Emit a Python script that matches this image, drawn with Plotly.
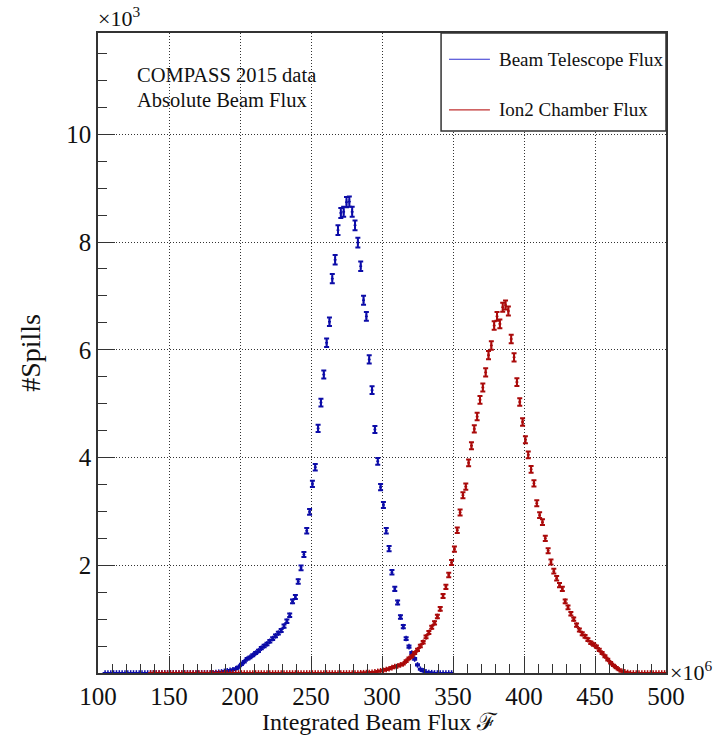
import numpy as np
import plotly.graph_objects as go

BIN_WIDTH = 2.0  # x10^6

# Beam Telescope Flux: bin contents (x10^3 spills); bin centres 105, 107, ..., 349
blue_first_center = 105
blue_values = [0] * 38 + [                                        # 105-179
    0.005, 0.01, 0.015, 0.02, 0.03, 0.04, 0.05, 0.06, 0.08, 0.11,  # 181-199
    0.16, 0.21, 0.26, 0.29, 0.33, 0.37, 0.41, 0.46, 0.50, 0.54,    # 201-219
    0.59, 0.64, 0.69, 0.74, 0.79, 0.87, 0.96, 1.07, 1.33, 1.41,    # 221-239
    1.70, 1.95, 2.20, 2.64, 2.99, 3.51, 3.82, 4.54, 5.02, 5.54,    # 241-259
    6.13, 6.52, 7.32, 7.67, 8.22, 8.54, 8.56, 8.74, 8.75, 8.56,    # 261-279
    8.31, 7.99, 7.55, 6.92, 6.62, 5.82, 5.25, 4.52, 3.93, 3.45,    # 281-299
    3.12, 2.64, 2.31, 1.87, 1.56, 1.31, 1.04, 0.86, 0.64, 0.49,    # 301-319
    0.37, 0.26, 0.15, 0.07, 0.04, 0.02, 0.01, 0.005, 0, 0,         # 321-339
    0, 0, 0, 0, 0,                                                 # 341-349
]

# Ion2 Chamber Flux: bin contents (x10^3 spills); bin centres 137, 139, ..., 499
red_first_center = 137
red_values = [0] * 74 + [                                          # 137-283
    0.003, 0.005, 0.007,                                           # 285-289
    0.01, 0.015, 0.02, 0.03, 0.04, 0.05, 0.065, 0.08, 0.10, 0.12,  # 291-309
    0.13, 0.15, 0.17, 0.22, 0.27, 0.31, 0.37, 0.43, 0.50, 0.57,    # 311-329
    0.67, 0.75, 0.85, 0.93, 1.05, 1.19, 1.43, 1.60, 1.82, 2.05,    # 331-349
    2.30, 2.65, 2.98, 3.30, 3.46, 3.90, 4.22, 4.53, 4.76, 5.07,    # 351-369
    5.30, 5.58, 5.90, 6.08, 6.45, 6.62, 6.48, 6.79, 6.83, 6.72,    # 371-389
    6.20, 5.86, 5.40, 5.03, 4.66, 4.33, 4.05, 3.78, 3.52, 3.15,    # 391-409
    2.93, 2.80, 2.50, 2.27, 2.06, 1.89, 1.76, 1.63, 1.56, 1.33,    # 411-429
    1.22, 1.10, 1.00, 0.89, 0.80, 0.73, 0.68, 0.62, 0.56, 0.53,    # 431-449
    0.49, 0.43, 0.37, 0.31, 0.25, 0.19, 0.14, 0.10, 0.06, 0.03,    # 451-469
    0.02, 0.01,                                                    # 471-473
] + [0] * 13                                                       # 475-499

series_names = ["Beam Telescope Flux", "Ion2 Chamber Flux"]
x_ticks = [100, 150, 200, 250, 300, 350, 400, 450, 500]
y_ticks = [2, 4, 6, 8, 10]

BLUE = "#0c0ca8"
RED = "#aa0a0a"
FONT = "Liberation Serif, Times New Roman, serif"


def centers(first, n):
    return [first + BIN_WIDTH * i for i in range(n)]


def poisson_err(vals):
    return [float(np.sqrt(v * 1000.0) / 1000.0) for v in vals]


fig = go.Figure()
for first, vals, col, name in [
    (blue_first_center, blue_values, BLUE, series_names[0]),
    (red_first_center, red_values, RED, series_names[1]),
]:
    fig.add_trace(go.Scatter(
        x=centers(first, len(vals)), y=vals, mode="markers", name=name,
        showlegend=False,
        marker=dict(symbol="line-ns", size=4, color=col,
                    line=dict(color=col, width=1.5)),
        error_y=dict(type="data", array=poisson_err(vals), width=2.5,
                     thickness=2.0, color=col),
        error_x=dict(type="constant", value=BIN_WIDTH / 2, width=0,
                     thickness=1.5, color=col),
    ))

axis_common = dict(
    showline=True, linecolor="#333", linewidth=1.5, mirror=True,
    ticks="inside", ticklen=17, tickwidth=1.2, tickcolor="#333",
    showgrid=True, gridcolor="#333", gridwidth=1, griddash="1px,2px",
    zeroline=False,
    tickfont=dict(family=FONT, size=25, color="#111"),
)

fig.update_xaxes(range=[100, 500], tickvals=x_ticks,
                 ticktext=[str(t) for t in x_ticks],
                 minor=dict(dtick=10, tick0=100, ticklen=9, ticks="inside",
                            tickcolor="#333", tickwidth=1.2, showgrid=False),
                 **axis_common)
fig.update_yaxes(range=[0, 11.88], tickvals=y_ticks,
                 ticktext=[str(t) for t in y_ticks],
                 minor=dict(dtick=0.5, tick0=0, ticklen=9, ticks="inside",
                            tickcolor="#333", tickwidth=1.2, showgrid=False),
                 **axis_common)

# Legend box (drawn to match the ROOT TLegend)
shapes = [
    dict(type="rect", xref="paper", yref="paper", x0=0.604, x1=1.0,
         y0=0.847, y1=1.0, line=dict(color="#333", width=1.5),
         fillcolor="white", layer="above"),
    dict(type="line", xref="paper", yref="paper", x0=0.618, x1=0.690,
         y0=0.959, y1=0.959, line=dict(color="#3030d0", width=1.2)),
    dict(type="line", xref="paper", yref="paper", x0=0.618, x1=0.690,
         y0=0.880, y1=0.880, line=dict(color="#c03030", width=1.2)),
]

ann = [
    dict(text=series_names[0], x=0.702, y=0.959, xanchor="left", yanchor="middle",
         font=dict(family=FONT, size=19, color="#111")),
    dict(text=series_names[1], x=0.702, y=0.880, xanchor="left", yanchor="middle",
         font=dict(family=FONT, size=19, color="#111")),
    dict(text="COMPASS 2015 data", x=0.065, y=0.934, xanchor="left", yanchor="middle",
         font=dict(family=FONT, size=20.5, color="#111")),
    dict(text="Absolute Beam Flux", x=0.065, y=0.895, xanchor="left", yanchor="middle",
         font=dict(family=FONT, size=20.5, color="#111")),
    dict(text="×10<sup>3</sup>", x=-0.003, y=1.0, xanchor="left", yanchor="bottom",
         font=dict(family=FONT, size=22, color="#111")),
    dict(text="×10<sup>6</sup>", x=1.003, y=0.003, xanchor="left", yanchor="middle",
         font=dict(family=FONT, size=22, color="#111")),
    dict(text="#Spills", x=-0.12, y=0.5, xanchor="center", yanchor="middle",
         textangle=-90, font=dict(family=FONT, size=28, color="#111")),
    dict(text="Integrated Beam Flux ℱ", x=0.496, y=-0.077, xanchor="center",
         yanchor="middle", font=dict(family=FONT, size=24, color="#111")),
]
for a in ann:
    a.update(xref="paper", yref="paper", showarrow=False)

fig.update_layout(
    width=716, height=747,
    margin=dict(l=98, r=50, t=33, b=74),
    paper_bgcolor="white", plot_bgcolor="white",
    shapes=shapes, annotations=ann, showlegend=False,
)

fig.write_html(
    "out.html",
    config={"displayModeBar": False},
    post_script="document.body.style.margin='0';document.body.style.overflow='hidden';",
)
